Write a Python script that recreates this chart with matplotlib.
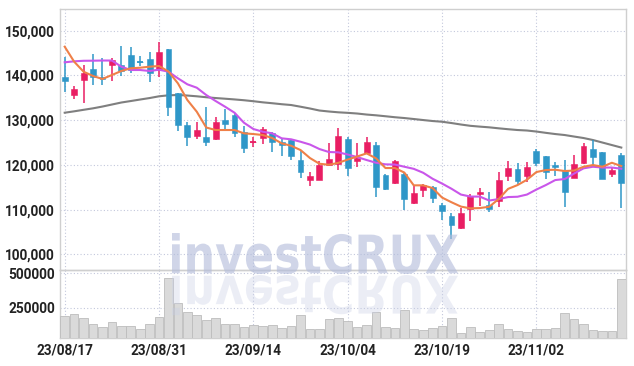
import matplotlib
matplotlib.use('Agg')
import matplotlib.pyplot as plt
import numpy as np
from matplotlib.textpath import TextPath
from matplotlib.patches import PathPatch
from matplotlib.font_manager import FontProperties
from matplotlib.transforms import Affine2D, IdentityTransform

# ---------------- data ----------------
dates = ['23/08/17', '23/08/18', '23/08/21', '23/08/22', '23/08/23', '23/08/24', '23/08/25',
         '23/08/28', '23/08/29', '23/08/30', '23/08/31',
         '23/09/01', '23/09/04', '23/09/05', '23/09/06', '23/09/07', '23/09/08', '23/09/11',
         '23/09/12', '23/09/13', '23/09/14', '23/09/15', '23/09/18', '23/09/19', '23/09/20',
         '23/09/21', '23/09/22', '23/09/25', '23/09/26', '23/09/27',
         '23/10/04', '23/10/05', '23/10/06', '23/10/10', '23/10/11', '23/10/12', '23/10/13',
         '23/10/16', '23/10/17', '23/10/18', '23/10/19', '23/10/20', '23/10/23', '23/10/24',
         '23/10/25', '23/10/26', '23/10/27', '23/10/30', '23/10/31',
         '23/11/01', '23/11/02', '23/11/03', '23/11/06', '23/11/07', '23/11/08', '23/11/09',
         '23/11/10', '23/11/13', '23/11/14', '23/11/15']

open_ = [139640, 135530, 138880, 141500, 139550, 142240, 142240, 144630, 143060, 143740,
         141120, 145970, 136060, 128970, 126360, 126130, 125840, 130090, 131050, 127250,
         125100, 126110, 127120, 125060, 125460, 121140, 116510, 116510, 119870, 120090,
         125840, 120770, 122550, 124500, 117630, 115930, 118060, 111460, 114430, 115030,
         111080, 108620, 105930, 110180, 113470, 110960, 111820, 117410, 119130, 117560,
         123160, 122040, 120020, 118680, 117000, 120400, 123540, 122870, 117940, 122150]
high = [144180, 137700, 142240, 144850, 143890, 143890, 146640, 146350, 144250, 145150,
        147470, 145970, 136060, 129630, 129520, 132840, 130700, 132480, 131590, 128750,
        126220, 128460, 127250, 125770, 125770, 123160, 118390, 120760, 124950, 128230,
        126290, 124880, 126220, 125100, 117950, 121080, 118460, 115480, 115710, 115330,
        111410, 109290, 110400, 113380, 114810, 113980, 118300, 120920, 120470, 120580,
        123540, 122040, 120580, 121140, 122260, 124830, 125460, 122940, 119350, 122640]
low = [136350, 134790, 133830, 137760, 137920, 138820, 139780, 140540, 142010, 138520,
       139640, 130830, 127470, 124270, 125840, 124270, 125610, 127470, 126180, 122640,
       123980, 124650, 122870, 122040, 121140, 117050, 115330, 116510, 119650, 118910,
       117450, 119420, 122420, 112750, 114430, 115710, 109960, 111300, 112710, 111460,
       107720, 103470, 105710, 107340, 110700, 109400, 110520, 116450, 115670, 116220,
       119650, 116890, 117560, 110560, 117000, 120250, 120020, 116780, 117230, 110340]
close = [138660, 137030, 140540, 139640, 139190, 143510, 140900, 141120, 143000, 140540,
         145150, 132840, 128970, 126220, 127850, 125010, 129580, 129130, 127120, 123670,
         125150, 128010, 125060, 124500, 121880, 118300, 117560, 120020, 121300, 126510,
         119250, 121520, 125100, 114950, 114660, 120920, 112350, 113690, 115390, 112580,
         109580, 106600, 109290, 113090, 113830, 110110, 116670, 119290, 116290, 119460,
         120400, 118460, 119460, 113830, 120250, 124160, 121810, 116890, 118910, 115930]

ma5 = [146420, 143070, 140830, 139870, 139200, 140090, 140990, 141590, 141720, 141950,
       142100, 140870, 138230, 134500, 131880, 128350, 127790, 127790, 127790, 127050,
       126890, 126670, 126000, 124810, 124270, 123310, 121520, 120250, 120020, 120450,
       121190, 121860, 122570, 121460, 119290, 119290, 118280, 115420, 115420, 114810,
       112690, 111640, 110670, 110270, 110340, 110630, 112350, 114630, 115480, 116670,
       118390, 118840, 118910, 118620, 118730, 119580, 119960, 119580, 120470, 119730]
ma10 = [142930, 143150, 143270, 143290, 143330, 143330, 141950, 141210, 141210, 140990,
        141280, 140830, 139350, 138010, 137250, 135620, 134270, 133000, 131660, 129420,
        128010, 127410, 127050, 125930, 125710, 125170, 124540, 123540, 122870, 122800,
        122310, 121750, 121080, 120470, 120110, 120070, 119580, 119110, 118230, 116890,
        115820, 114660, 113360, 112910, 112910, 112020, 112350, 112800, 112870, 113360,
        114480, 115480, 116600, 116830, 118060, 119220, 119580, 119400, 119400, 119130]
ma60 = [131660, 131970, 132310, 132640, 133040, 133490, 133940, 134270, 134610, 134940,
        135330, 135550, 135620, 135500, 135330, 135120, 134940, 134790, 134630, 134450,
        134230, 133980, 133780, 133560, 133380, 133000, 132600, 132150, 131930, 131750,
        131630, 131480, 131250, 131080, 130870, 130650, 130470, 130250, 130020, 129800,
        129640, 129350, 129020, 128730, 128550, 128390, 128170, 127970, 127790, 127680,
        127450, 127160, 126890, 126670, 126330, 126000, 125550, 124990, 124430, 123870]

volume = [189700, 204200, 173000, 129400, 107600, 143900, 117000, 117000, 93000, 131600,
          180300, 463700, 282000, 216600, 197000, 160600, 173000, 131600, 131600, 107600,
          124300, 117000, 124300, 100300, 117000, 197000, 93000, 93000, 165700, 173000,
          153400, 107600, 122100, 216600, 107600, 100300, 233300, 93000, 85800, 100300,
          117000, 173000, 64000, 107600, 73400, 85800, 131600, 93000, 80700, 73400,
          93000, 93000, 100300, 209300, 165700, 131600, 85800, 80700, 80700, 456400]

price_ticks = [100000, 110000, 120000, 130000, 140000, 150000]
volume_ticks = [250000, 500000]
xtick_idx = [0, 10, 20, 30, 40, 50]

# ---------------- style ----------------
UP = '#e91e63'
DOWN = '#2f97c8'
GRID = '#c3c8dc'
SPINE = '#cfcfcf'
LABEL = '#222222'
FONT = ['Roboto', 'DejaVu Sans']

W, H = 634, 366
fig = plt.figure(figsize=(W / 100, H / 100), dpi=100)
fig.patch.set_facecolor('white')

ax = fig.add_axes([60 / W, (H - 270) / H, 566 / W, 261 / H])
axv = fig.add_axes([60 / W, (H - 337.5) / H, 566 / W, 67.5 / H], sharex=ax)

n = len(dates)
x = np.arange(n)
o = np.array(open_); c = np.array(close); hi = np.array(high); lo = np.array(low)
up = c >= o
colors = np.where(up, UP, DOWN)

# wicks
ax.vlines(x, lo, hi, colors=colors, linewidth=1.1, zorder=3)
# bodies
bw = 0.62
body_h = np.abs(c - o)
bottoms = np.minimum(o, c)
ax.bar(x, body_h, width=bw, bottom=bottoms, color=colors, edgecolor=colors,
       linewidth=0.4, zorder=4)
# doji
doji = body_h < 200
ax.hlines(((o + c) / 2)[doji], (x - bw / 2)[doji], (x + bw / 2)[doji],
          colors=colors[doji], linewidth=1.3, zorder=4)

# moving averages
ax.plot(x, ma60, color='#7f7f7f', linewidth=1.5, zorder=2)
ax.plot(x, ma10, color='#c956ea', linewidth=1.5, zorder=5)
ax.plot(x, ma5, color='#ef8048', linewidth=1.5, zorder=6)

ax.set_xlim(-0.5, n - 0.5)
ax.set_ylim(96490, 154850)
ax.set_yticks(price_ticks)
ax.set_yticklabels([f'{v:,}' for v in price_ticks])

# volume
axv.bar(x, volume, width=0.92, color='#dadada', edgecolor='#bdbdbd',
        linewidth=0.6, zorder=3)
axv.set_ylim(33500, 524000)
axv.set_yticks(volume_ticks)
axv.set_yticklabels([str(v) for v in volume_ticks])
axv.set_xticks(xtick_idx)
axv.set_xticklabels([dates[i] for i in xtick_idx])

for a in (ax, axv):
    a.set_facecolor('none')
    a.grid(True, color=GRID, linestyle=(0, (1, 2)), linewidth=0.8, zorder=0)
    a.set_axisbelow(True)
    for s in a.spines.values():
        s.set_color(SPINE)
        s.set_linewidth(1.0)
    a.tick_params(length=0, pad=3.5, colors=LABEL)
    for lab in a.get_yticklabels() + a.get_xticklabels():
        lab.set_fontfamily(FONT)
        lab.set_fontweight('bold')
        lab.set_fontsize(9.8)
        lab.set_color(LABEL)
ax.set_xticks(xtick_idx)
plt.setp(ax.get_xticklabels(), visible=False)
axv.tick_params(axis='x', pad=4.5)

# ---------------- watermark ----------------
fp = FontProperties(family='DejaVu Sans', weight='bold')
tp = TextPath((0, 0), 'investCRUX', size=1, prop=fp)
bb = tp.get_extents()
x_left, x_right = 172, 458
base_y = H - 274          # baseline (display coords)
top_y = H - 233
sx = (x_right - x_left) / bb.width
sy = (top_y - base_y) / bb.height
tr_main = Affine2D().translate(-bb.x0, -bb.y0).scale(sx, sy).translate(x_left, base_y)
tr_ref = Affine2D().translate(-bb.x0, -bb.y0).scale(sx, -sy * 0.98).translate(x_left, base_y - 1)
wm_main = PathPatch(tr_main.transform_path(tp), facecolor='#b3bcdb',
                    edgecolor='none', alpha=0.62, zorder=10)
wm_ref = PathPatch(tr_ref.transform_path(tp), facecolor='#c9cfe6',
                   edgecolor='none', alpha=0.36, zorder=10)
for p in (wm_main, wm_ref):
    p.set_transform(IdentityTransform())
    fig.add_artist(p)

fig.savefig('out.png', dpi=100, facecolor='white')
